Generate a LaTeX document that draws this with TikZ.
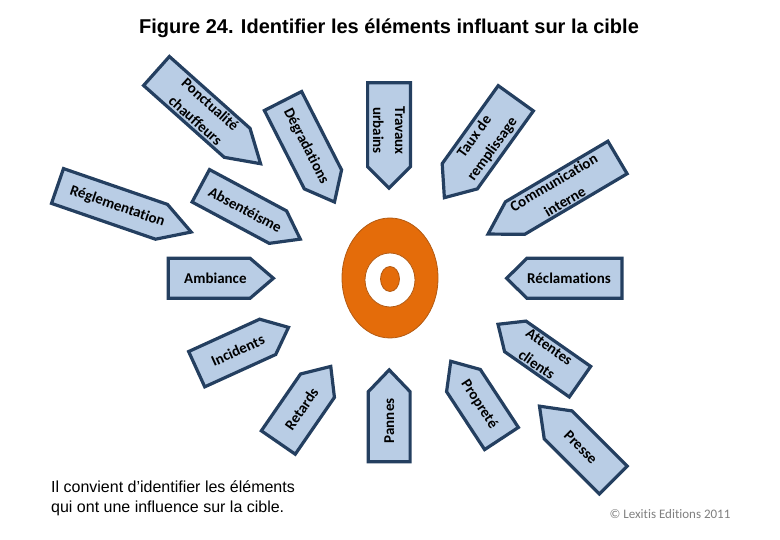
\documentclass[tikz,border=0pt]{standalone}
\usepackage{fontspec}
\setmainfont{Liberation Sans}
\newfontfamily\calibri[Ligatures=NoCommon]{Carlito}
\definecolor{boxfill}{HTML}{B9CDE5}
\definecolor{boxline}{HTML}{243F60}
\definecolor{targetorange}{HTML}{E46C0A}
\definecolor{targetedge}{HTML}{B35A12}
\definecolor{copygray}{HTML}{7F7F7F}
\tikzset{
  arrowbox/.style={draw=boxline, fill=boxfill, line width=3.2pt},
  arrowtext/.style={font=\calibri\bfseries\fontsize{15}{22}\selectfont, align=center, inner sep=0pt, text=black},
  targetring/.style={draw=targetedge, line width=0.8pt},
}
% #1 name, #2 x, #3 y (screen), #4 axis angle, #5 length, #6 width, #7 tip, #8 text angle, #9 text
\newcommand{\parrow}[9]{%
  \begin{scope}[shift={(#2,540-#3)}, rotate=#4]
    \draw[arrowbox] (0,-#6/2+1.6) -- ({#5-#7},-#6/2+1.6) -- (#5-1.6,0) -- ({#5-#7},#6/2-1.6) -- (0,#6/2-1.6) -- cycle;
    \node[arrowtext, rotate=#8] (#1) at ({(#5-#7/2)/2},0) {#9};
  \end{scope}}
\begin{document}
\begin{tikzpicture}[x=1pt,y=1pt]
\useasboundingbox (0,0) rectangle (780,540);
\node[font=\bfseries\fontsize{20}{24}\selectfont] (title) at (389,512) {Figure 24. Identifier les éléments influant sur la cible};

% target
\fill[targetorange, targetring, draw=targetedge] (390,540-278) ellipse [x radius=48, y radius=60];
\filldraw[fill=white, targetring] (390,540-280) ellipse [x radius=25, y radius=27];
\filldraw[fill=targetorange, targetring] (390,540-279) ellipse [x radius=9.5, y radius=12.5];

% arrows
\parrow{ponct}{156.5}{71}{-41.7}{141}{42}{33}{-42}{Ponctualité\\chauffeurs}
\parrow{degr}{283}{101}{-63}{115}{45}{27}{-63}{Dégradations}
\parrow{trav}{389}{82.7}{-90}{107}{46}{23}{-90}{Travaux\\urbains}
\parrow{taux}{515.8}{98.3}{-125.7}{124}{46.5}{28}{54.3}{Taux de\\remplissage}
\parrow{comm}{617.5}{157.5}{-149.4}{152}{41}{33}{30.6}{Communication\\interne}
\parrow{regl}{57.5}{186}{-19}{143}{40}{33}{-19}{Réglementation}
\parrow{abs}{200.8}{185.8}{-28.2}{114.5}{40}{27}{-28.2}{Absentéisme}
\parrow{amb}{168.3}{278.3}{0}{106.7}{43.3}{25}{0}{Ambiance}
\parrow{recl}{622}{278.3}{180}{117}{43.3}{22}{0}{Réclamations}
\parrow{inc}{196.7}{369.2}{24.5}{102.5}{42}{24.5}{24.5}{Incidents}
\parrow{ret}{278.3}{442.5}{55.4}{94}{44.4}{25}{55.4}{Retards}
\parrow{pann}{389.2}{461.7}{90}{93.4}{45}{23.4}{90}{Pannes}
\parrow{propr}{501.5}{438.5}{123.3}{94}{43.6}{24.7}{-56.7}{Propreté}
\parrow{att}{580}{381.7}{145}{101.7}{40.5}{22.7}{-35}{Attentes\\clients}
\parrow{presse}{613.3}{480}{135}{106}{42.6}{28}{-45}{Presse}

% bottom texts
\node[anchor=west, align=left, inner sep=0pt, font=\fontsize{16}{20}\selectfont] (note) at (51,540-498) {Il convient d'identifier les éléments\\qui ont une influence sur la cible.};
\node[font=\calibri\fontsize{13}{15}\selectfont, text=copygray] (copy) at (670,540-514) {© Lexitis Editions 2011};
\end{tikzpicture}
\end{document}
